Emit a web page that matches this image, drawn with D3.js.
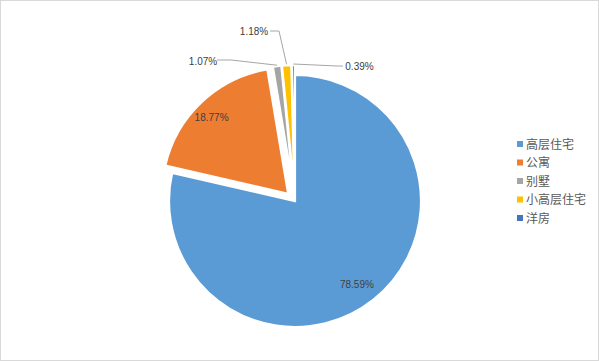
<!DOCTYPE html>
<html>
<head>
<meta charset="utf-8">
<script src="https://cdn.jsdelivr.net/npm/d3@7/dist/d3.min.js"></script>
<style>
  body { margin: 0; background: #fff; }
  text { font-family: "Liberation Sans", Arial, "Noto Sans CJK SC", sans-serif; }
</style>
</head>
<body>
<div id="chart"></div>
<script>
// data
var categories = ['高层住宅', '公寓', '别墅', '小高层住宅', '洋房'];
var shares = [78.59, 18.77, 1.07, 1.18, 0.39];
var share_labels = ['78.59%', '18.77%', '1.07%', '1.18%', '0.39%'];

draw_pie();
function draw_pie(){
    var width = 599, height = 361;
    var cx = 295, cy = 201, radius = 126;

    var color = d3.scaleOrdinal()
                .domain(categories)
                .range(['#5b9bd5', '#ed7d31', '#a5a5a5', '#ffc000', '#4472c4']);

    // how far each slice is pulled out of the pie
    var explode = [0, 10, 10, 10, 10];

    var svg = d3.select('#chart')
      .append('svg')
      .attr('width', width)
      .attr('height', height);

    // chart border
    svg.append('rect')
       .attr('x', 0.5).attr('y', 0.5)
       .attr('width', width - 1).attr('height', height - 1)
       .attr('fill', '#fff')
       .attr('stroke', '#d9d9d9');

    var table = categories.map(function(c, i){
        return {name: c, value: shares[i], label: share_labels[i], idx: i};
    });

    var pie = d3.pie()
                .sort(null)
                .value(function(d){ return d.value; });
    var arcs = pie(table);

    var arc = d3.arc().innerRadius(0).outerRadius(radius);

    function mid(d){ return (d.startAngle + d.endAngle) / 2; }
    function offset(d){
        var a = mid(d), e = explode[d.data.idx];
        return [Math.sin(a) * e, -Math.cos(a) * e];
    }

    var g = svg.append('g')
               .attr('transform', 'translate(' + cx + ',' + cy + ')');

    g.selectAll('path.slice')
     .data(arcs)
     .enter()
     .append('path')
     .attr('class', 'slice')
     .attr('d', arc)
     .attr('transform', function(d){ var o = offset(d); return 'translate(' + o[0] + ',' + o[1] + ')'; })
     .attr('fill', function(d){ return color(d.data.name); })
     .attr('stroke', '#fff')
     .attr('stroke-width', 2.2)
     .attr('stroke-linejoin', 'miter');

    // labels inside the two big slices
    var inner = d3.arc().innerRadius(radius * 0.84).outerRadius(radius * 0.84);
    g.selectAll('text.inlabel')
     .data(arcs.filter(function(d){ return d.value > 5; }))
     .enter()
     .append('text')
     .attr('class', 'inlabel')
     .attr('x', function(d){ return inner.centroid(d)[0] + offset(d)[0] - 4; })
     .attr('y', function(d){ return inner.centroid(d)[1] + offset(d)[1] + 4; })
     .attr('text-anchor', 'middle')
     .attr('font-size', '10px')
     .attr('fill', '#404040')
     .text(function(d){ return d.data.label; });

    // small slices: label placed outside with a leader line (offsets from pie centre)
    var out_layout = {
        '别墅':     {tx: -92, ty: -140, anchor: 'middle', elbow: [-64, -141], start: [-78, -141]},
        '小高层住宅': {tx: -41, ty: -170, anchor: 'middle', elbow: [-16, -170], start: [-25, -170]},
        '洋房':     {tx: 64.5, ty: -135, anchor: 'middle', elbow: [42, -135], start: [48, -135]}
    };
    var outer_pt = d3.arc().innerRadius(radius + 1).outerRadius(radius + 1);
    var small = arcs.filter(function(d){ return d.value <= 5; });

    g.selectAll('path.leader')
     .data(small)
     .enter()
     .append('path')
     .attr('class', 'leader')
     .attr('fill', 'none')
     .attr('stroke', '#a6a6a6')
     .attr('stroke-width', 1)
     .attr('d', function(d){
         var L = out_layout[d.data.name];
         var c = outer_pt.centroid(d), o = offset(d);
         return d3.line()([L.start, L.elbow, [c[0] + o[0], c[1] + o[1]]]);
     });

    g.selectAll('text.outlabel')
     .data(small)
     .enter()
     .append('text')
     .attr('class', 'outlabel')
     .attr('x', function(d){ return out_layout[d.data.name].tx; })
     .attr('y', function(d){ return out_layout[d.data.name].ty + 4; })
     .attr('text-anchor', function(d){ return out_layout[d.data.name].anchor; })
     .attr('font-size', '10px')
     .attr('fill', '#404040')
     .text(function(d){ return d.data.label; });

    // legend
    var legend = svg.append('g')
                    .attr('transform', 'translate(517,144)');
    var item = legend.selectAll('g.item')
                     .data(categories)
                     .enter()
                     .append('g')
                     .attr('class', 'item')
                     .attr('transform', function(d, i){ return 'translate(0,' + (i * 18.5) + ')'; });
    item.append('rect')
        .attr('x', 0).attr('y', -3)
        .attr('width', 6).attr('height', 6)
        .attr('fill', function(d){ return color(d); });
    item.append('text')
        .attr('x', 9).attr('y', 4.5)
        .attr('font-size', '12px')
        .attr('font-family', '"Noto Sans CJK SC", sans-serif')
        .attr('fill', '#595959')
        .text(function(d){ return d; });
}
</script>
</body>
</html>
